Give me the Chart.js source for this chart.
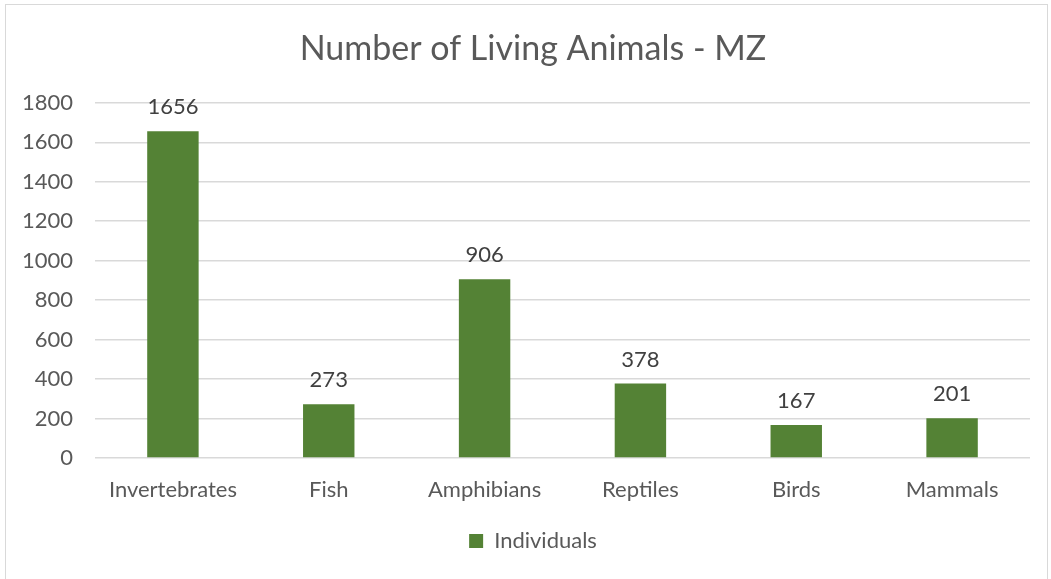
<!DOCTYPE html>
<html>
<head>
<meta charset="utf-8">
<script src="https://cdn.jsdelivr.net/npm/chart.js@4.4.0/dist/chart.umd.min.js"></script>
<style>
  html, body { margin: 0; padding: 0; background: #fff; }
  #wrap { position: relative; width: 1051px; height: 579px; overflow: hidden; }
  #frame { position: absolute; left: 5px; top: 4px; width: 1043px; height: 600px; border: 1px solid #d9d9d9; box-sizing: border-box; }
  canvas { position: absolute; left: 0; top: 0; }
</style>
</head>
<body>
<div id="wrap">
  <div id="frame"></div>
  <canvas id="c" width="1066" height="579"></canvas>
</div>
<script>
const categories = ["Invertebrates", "Fish", "Amphibians", "Reptiles", "Birds", "Mammals"];
const individuals = [1656, 273, 906, 378, 167, 201];
const seriesName = "Individuals";
const chartTitle = "Number of Living Animals - MZ";

const FONT = "Lato, 'Open Sans', sans-serif";

const dataLabels = {
  id: 'dataLabels',
  afterDatasetsDraw(chart) {
    const ctx = chart.ctx;
    const meta = chart.getDatasetMeta(0);
    ctx.save();
    ctx.font = "22px " + FONT;
    ctx.fillStyle = "#404040";
    ctx.textAlign = "center";
    ctx.textBaseline = "middle";
    meta.data.forEach((el, i) => {
      ctx.fillText(String(chart.data.datasets[0].data[i]), el.x, el.y - 24);
    });
    ctx.restore();
  }
};

new Chart(document.getElementById('c'), {
  type: 'bar',
  data: {
    labels: categories,
    datasets: [{
      label: seriesName,
      data: individuals,
      yAxisID: 'y',
      backgroundColor: "#548235",
      borderWidth: 0,
      categoryPercentage: 1,
      barPercentage: 0.33
    }]
  },
  options: {
    responsive: false,
    animation: false,
    devicePixelRatio: 1,
    layout: { padding: { left: 0, right: 0, top: 0, bottom: 17 } },
    plugins: {
      title: {
        display: true,
        text: chartTitle,
        color: "#595959",
        font: { family: FONT, size: 34, weight: 'normal' },
        padding: { top: 29, bottom: 33 }
      },
      legend: {
        display: true,
        position: 'bottom',
        labels: {
          color: "#595959",
          font: { family: FONT, size: 22 },
          boxWidth: 14,
          boxHeight: 14,
          padding: 10
        }
      },
      tooltip: { enabled: false }
    },
    scales: {
      x: {
        grid: { display: false },
        border: { display: false },
        ticks: { color: "#595959", font: { family: FONT, size: 22 }, padding: 11 },
        afterFit(scale) { scale.height = 62; }
      },
      y: {
        position: 'left',
        min: 0,
        max: 1800,
        ticks: {
          stepSize: 200, color: "#595959", font: { family: FONT, size: 22 }, padding: 22,
          callback: (v) => String(v)
        },
        grid: { color: "#d9d9d9", drawTicks: false, lineWidth: 1.5 },
        border: { display: false },
        afterFit(scale) { scale.width = 95; }
      },
      spacer: {
        type: 'linear',
        position: 'right',
        display: true,
        grid: { display: false, drawTicks: false },
        border: { display: false },
        ticks: { display: false },
        afterFit(scale) { scale.width = 36; }
      }
    }
  },
  plugins: [dataLabels]
});
</script>
</body>
</html>
